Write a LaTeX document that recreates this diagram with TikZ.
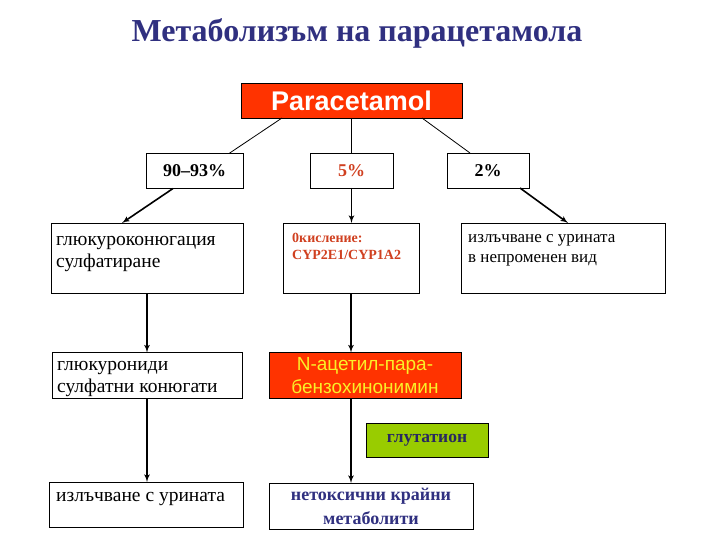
\documentclass[tikz,border=0pt]{standalone}
\usepackage{fontspec}
\setmainfont{Liberation Serif}
\setsansfont{Liberation Sans}
\usepackage{tikz}
\usetikzlibrary{arrows,positioning,calc}
\usepackage{xcolor}
\definecolor{titleblue}{RGB}{48,48,128}
\definecolor{hotred}{RGB}{255,51,0}
\definecolor{rust}{RGB}{208,64,32}
\definecolor{lemon}{RGB}{250,240,40}
\definecolor{lime}{RGB}{153,204,0}
\definecolor{navy}{RGB}{40,40,96}

\begin{document}
\begin{tikzpicture}[x=1pt, y=-1pt,
  box/.style={draw, line width=0.8pt, inner sep=0pt, outer sep=0pt},
  hot/.style={box, fill=hotred},
  pct/.style={box, minimum height=35pt, font=\bfseries\fontsize{18}{20}\selectfont},
  txt/.style={inner sep=0pt, anchor=north west, align=left},
  big/.style={font=\fontsize{19.5}{22}\selectfont},
  arr/.style={-latex', line width=1.6pt},
  ln/.style={line width=0.8pt}
]
\useasboundingbox (0,0) rectangle (720,540);

\node[font=\bfseries\fontsize{32}{38}\selectfont, text=titleblue] (title) at (357,33) {Метаболизъм на парацетамола};

% top level
\node[hot, minimum width=221pt, minimum height=35pt, text=white,
      font=\sffamily\bfseries\fontsize{27}{30}\selectfont] (para) at (351.5,100.5) {Paracetamol};
\node[pct, minimum width=97pt] (p90) at (194.5,171) {90--93\%};
\node[pct, minimum width=83pt, text=rust] (p5) at (351.5,170.5) {5\%};
\node[pct, minimum width=82pt] (p2) at (488,170.5) {2\%};

% second row
\node[box, minimum width=192pt, minimum height=70pt] (gluc) at (147,258) {};
\node[txt, big] (glucT) at ($(gluc.north west)+(5,13)$) {глюкуроконюгация\\сулфатиране};
\node[box, minimum width=136pt, minimum height=70pt] (oxid) at (351,258) {};
\node[txt, text=rust, font=\bfseries\fontsize{14}{17}\selectfont] (oxidT) at ($(oxid.north west)+(9,10)$) {0кисление:\\CYP2E1/CYP1A2};
\node[box, minimum width=204pt, minimum height=70pt] (izl) at (563,258) {};
\node[txt, font=\fontsize{17}{20}\selectfont] (izlT) at ($(izl.north west)+(7,11)$) {излъчване с урината\\в непроменен вид};

% third row
\node[box, minimum width=190pt, minimum height=46pt] (glur) at (147,375.5) {};
\node[txt, big] (glurT) at ($(glur.north west)+(5,9)$) {глюкурониди\\сулфатни конюгати};
\node[hot, minimum width=192pt, minimum height=46pt, text=lemon, align=center,
      font=\sffamily\fontsize{19}{23}\selectfont] (nacet) at (365,375.5) {N-ацетил-пара-\\бензохинонимин};
\node[box, fill=lime, minimum width=122pt, minimum height=34pt, text=navy,
      font=\bfseries\fontsize{17.5}{20}\selectfont] (glut) at (427,440) {глутатион};

% bottom row
\node[box, minimum width=194pt, minimum height=45pt] (izl2) at (146,504.5) {};
\node[txt, big] (izl2T) at ($(izl2.north west)+(7,10)$) {излъчване с урината};
\node[box, minimum width=204pt, minimum height=46pt, align=center, text=titleblue,
      font=\bfseries\fontsize{18}{24}\selectfont] (netox) at (371,506) {нетоксични крайни\\метаболити};

% connectors
\draw[ln] ($(para.south west)+(41,0)$) -- ($(p90.north east)+(-14,0)$);
\draw[ln] (para.south) -- (p5.north);
\draw[ln] ($(para.south east)+(-40,0)$) -- ($(p2.north west)+(23,0)$);
\draw[arr] ($(p90.south west)+(27,0)$) -- ($(gluc.north west)+(71,0)$);
\draw[arr] (p5.south) -- (p5.south |- oxid.north);
\draw[arr] ($(p2.south west)+(73,0)$) -- ($(izl.north west)+(107,0)$);
\draw[arr] (gluc.south) -- (gluc.south |- glur.north);
\draw[arr] (oxid.south) -- (oxid.south |- nacet.north);
\draw[arr] (glur.south) -- (glur.south |- izl2.north);
\draw[arr] (nacet.south -| oxid.south) -- (netox.north -| oxid.south);
\end{tikzpicture}
\end{document}
